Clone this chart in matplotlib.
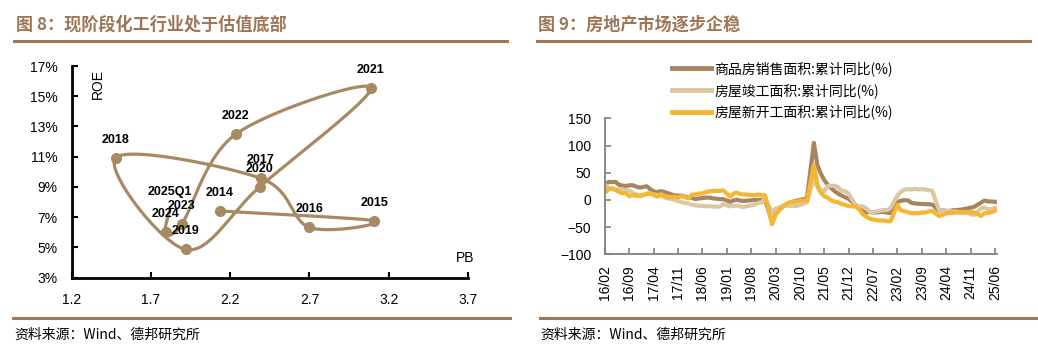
import numpy as np
import pandas as pd
import matplotlib
matplotlib.use('Agg')
import matplotlib.pyplot as plt
from matplotlib.lines import Line2D

plt.rcParams['font.family'] = ['Liberation Sans', 'Noto Sans CJK SC']

# ---------------- Left chart data (PB vs ROE) ----------------
years = ['2014', '2015', '2016', '2017', '2018', '2019', '2020', '2021',
         '2022', '2023', '2024', '2025Q1']
pb = [2.135, 3.108, 2.698, 2.393, 1.479, 1.918, 2.387, 3.087, 2.236, 1.893, 1.792, 1.82]
roe = [7.41, 6.77, 6.33, 9.57, 10.94, 4.87, 9.02, 15.57, 12.50, 6.53, 6.04, 7.5]
marked = [True] * 11 + [False]
x_ticks_left = [1.2, 1.7, 2.2, 2.7, 3.2, 3.7]
y_ticks_left = [3, 5, 7, 9, 11, 13, 15, 17]

# ---------------- Right chart data (monthly, Jan merged -> NaN) ----------------
start_month, end_month = '2016-02', '2025-06'
nan = np.nan
sales = [
    28.2, 33.1, 32.7, 33.2, 27.9, 26.4, 25.5, 26.9, 26.8, 24.3, 22.5,
    nan, 25.1, 19.5, 15.7, 14.3, 16.1, 14.7, 12.7, 10.3, 8.2, 7.9, 7.7,
    nan, 4.1, 3.6, 1.3, 2.9, 3.3, 4.2, 4.0, 2.9, 2.2, 1.4, 1.3,
    nan, -3.6, -0.9, 0.3, -1.6, -1.8, -1.3, -0.6, -0.1, 0.1, 0.2, -0.1,
    nan, -39.9, -26.3, -19.3, -12.3, -8.4, -5.8, -3.3, -1.8, 0.0, 1.3, 2.6,
    nan, 104.9, 63.8, 48.1, 36.3, 27.7, 21.5, 15.9, 11.3, 7.8, 4.8, 1.9,
    nan, -9.6, -13.8, -20.9, -23.6, -22.2, -23.1, -23.0, -22.2, -22.3, -23.3, -24.3,
    nan, -3.6, -1.8, -0.4, -0.9, -5.3, -6.5, -7.1, -7.5, -7.8, -8.0, -8.5,
    nan, -20.5, -19.4, -20.2, -20.3, -19.0, -18.6, -18.0, -17.1, -15.8, -14.3, -12.9,
    nan, -5.1, -1.1, -2.8, -2.9, -3.5,
]
completed = [
    28.0, 22.0, 20.0, 19.0, 20.0, 19.0, 18.0, 17.0, 13.0, 10.0, 6.1,
    nan, 11.7, 12.0, 10.0, 9.0, 7.0, 5.0, 3.0, 2.0, 0.0, -2.0, -4.4,
    nan, -7.0, -9.0, -10.0, -11.0, -11.0, -11.6, -11.7, -12.0, -12.3, -12.3, -7.8,
    nan, -11.9, -10.8, -10.3, -12.4, -12.7, -11.3, -10.0, -8.6, -5.5, -4.5, 2.6,
    nan, -22.9, -15.8, -14.5, -10.5, -10.5, -11.0, -10.8, -11.6, -9.2, -7.3, -4.9,
    nan, 40.4, 22.9, 17.9, 16.4, 25.7, 25.7, 26.0, 23.4, 16.3, 16.0, 11.2,
    nan, -9.8, -11.5, -11.9, -15.3, -21.5, -23.3, -21.1, -19.9, -18.7, -19.0, -15.0,
    nan, 8.0, 14.7, 18.8, 19.6, 19.0, 20.5, 19.2, 19.8, 19.0, 17.9, 17.0,
    nan, -20.2, -20.7, -20.4, -20.1, -21.8, -21.3, -23.6, -24.4, -23.9, -26.0, -27.7,
    nan, -15.6, -14.3, -16.9, -17.3, -14.8,
]
new_start = [
    13.7, 19.2, 21.4, 18.3, 14.9, 12.1, 12.2, 6.8, 8.7, 7.6, 8.1,
    nan, 10.4, 11.6, 8.6, 6.1, 10.6, 7.8, 5.7, 5.6, 5.6, 4.9, 7.0,
    nan, 2.9, 9.7, 10.2, 11.8, 11.8, 14.4, 15.9, 16.4, 16.3, 16.8, 17.2,
    nan, 6.0, 11.9, 13.1, 10.5, 10.1, 9.5, 8.9, 8.6, 10.0, 8.6, 8.5,
    nan, -44.9, -27.2, -18.4, -12.8, -7.6, -4.5, -3.6, -3.4, -1.8, -1.0, -1.2,
    nan, 64.3, 28.2, 12.8, 6.9, 3.8, -0.9, -3.2, -4.5, -7.7, -9.1, -11.4,
    nan, -12.2, -17.5, -26.3, -30.6, -34.4, -36.1, -37.2, -38.0, -37.8, -38.9, -39.4,
    nan, -9.4, -19.2, -21.2, -22.6, -24.3, -24.5, -24.4, -23.4, -23.2, -21.2, -20.4,
    nan, -29.7, -27.8, -24.6, -24.2, -23.7, -23.2, -22.5, -22.2, -22.6, -22.0, -23.0,
    nan, -29.6, -24.4, -23.8, -22.8, -20.0,
]
series_names = ['商品房销售面积:累计同比(%)', '房屋竣工面积:累计同比(%)', '房屋新开工面积:累计同比(%)']
series_colors = ['#A88560', '#D9C8A2', '#F5B631']
y_ticks_right = [-100, -50, 0, 50, 100, 150]
tick_step_months = 7

title_left = '图 8：现阶段化工行业处于估值底部'
title_right = '图 9：房地产市场逐步企稳'
source_text = '资料来源：Wind、德邦研究所'

# ---------------- helpers ----------------
W, H = 1038, 357
def fx(px): return px / W
def fy(py): return 1 - py / H

def smooth(xs, ys, sx, sy, n=40):
    P = np.column_stack([np.asarray(xs, float) * sx, np.asarray(ys, float) * sy])
    E = np.vstack([P[0], P, P[-1]])
    out = []
    t = np.linspace(0, 1, n)[:, None]
    for i in range(len(P) - 1):
        p0, p1, p2, p3 = E[i], E[i + 1], E[i + 2], E[i + 3]
        c1 = p1 + (p2 - p0) / 6
        c2 = p2 - (p3 - p1) / 6
        seg = (1 - t) ** 3 * p1 + 3 * (1 - t) ** 2 * t * c1 + 3 * (1 - t) * t ** 2 * c2 + t ** 3 * p2
        out.append(seg if i == 0 else seg[1:])
    pts = np.vstack(out)
    return pts[:, 0] / sx, pts[:, 1] / sy

fig = plt.figure(figsize=(W / 100, H / 100), dpi=100)
brown = '#A07858'
cjk = ['Noto Sans CJK SC', 'Liberation Sans']

# titles, rules, sources
fig.text(fx(16), fy(25), title_left, fontsize=12.3, fontweight='bold', color='#9C7656',
         family=cjk, va='center', ha='left')
fig.text(fx(538), fy(25), title_right, fontsize=12.3, fontweight='bold', color='#9C7656',
         family=cjk, va='center', ha='left')
for x0, x1 in [(14, 507), (537, 1030)]:
    fig.add_artist(Line2D([fx(x0), fx(x1)], [fy(40.7), fy(40.7)], color=brown, lw=2.2,
                          transform=fig.transFigure))
for x0, x1 in [(13, 510), (540, 1036)]:
    fig.add_artist(Line2D([fx(x0), fx(x1)], [fy(317.5), fy(317.5)], color=brown, lw=2.2,
                          transform=fig.transFigure))
fig.text(fx(14), fy(335), source_text, fontsize=10, family=cjk, va='center', ha='left', color='black')
fig.text(fx(540), fy(335), source_text, fontsize=10, family=cjk, va='center', ha='left', color='black')

# ---------------- left chart ----------------
ax1 = fig.add_axes([fx(71.7), fy(277.7), (468 - 71.7) / W, (277.7 - 66) / H])
ax1.set_xlim(1.2, 3.7)
ax1.set_ylim(3, 17)
sx = (468 - 71.7) / 2.5
sy = (277.7 - 66) / 14
cx, cy = smooth(pb, roe, sx, sy)
ptc = '#A88A62'
ax1.plot(cx, cy, color=ptc, lw=2.3, solid_capstyle='round', zorder=2)
mx = [p for p, m in zip(pb, marked) if m]
my = [r for r, m in zip(roe, marked) if m]
ax1.plot(mx, my, 'o', color=ptc, ms=7, zorder=3, clip_on=False)
for yr, x, y in zip(years, pb, roe):
    ax1.annotate(yr, (x, y), xytext=(0, 13), textcoords='offset points', ha='center', va='center',
                 fontsize=9, fontweight='bold', color='black')
for s in ['top', 'right']:
    ax1.spines[s].set_visible(False)
for s in ['left', 'bottom']:
    ax1.spines[s].set_linewidth(2.0)
    ax1.spines[s].set_color('black')
ax1.set_xticks(x_ticks_left)
ax1.set_xticklabels([f'{v:.1f}' for v in x_ticks_left])
ax1.set_yticks(y_ticks_left)
ax1.set_yticklabels([f'{v}%' for v in y_ticks_left])
ax1.tick_params(axis='both', direction='in', length=4, width=1.5, color='black', labelsize=10)
ax1.tick_params(axis='y', pad=10)
ax1.tick_params(axis='x', pad=11)
fig.text(fx(98), fy(84), 'ROE', rotation=90, fontsize=10, ha='center', va='center')
fig.text(fx(465), fy(258), 'PB', fontsize=10, ha='center', va='center')

# ---------------- right chart ----------------
months = pd.date_range(start_month, end_month, freq='MS')
idx = np.arange(len(months))
ax2 = fig.add_axes([fx(605), fy(254.3), (997 - 605) / W, (254.3 - 118.3) / H])
ax2.set_xlim(0, 112.6)
ax2.set_ylim(-100, 150)
handles = []
for vals, name, col in zip([sales, completed, new_start], series_names, series_colors):
    v = np.asarray(vals, float)
    ok = ~np.isnan(v)
    h, = ax2.plot(idx[ok], v[ok], color=col, lw=3.0, label=name, solid_joinstyle='round')
    handles.append(h)
for s in ['top', 'right']:
    ax2.spines[s].set_visible(False)
for s in ['left', 'bottom']:
    ax2.spines[s].set_linewidth(1.3)
    ax2.spines[s].set_color('#7F7F7F')
tick_pos = idx[::tick_step_months]
ax2.set_xticks(tick_pos)
ax2.set_xticklabels([months[i].strftime('%y/%m') for i in tick_pos], rotation=90)
ax2.set_yticks(y_ticks_right)
ax2.tick_params(axis='both', direction='in', length=4, width=1.2, color='#7F7F7F', labelsize=10)
ax2.tick_params(axis='y', pad=10)
ax2.tick_params(axis='x', pad=8)
leg = fig.legend(handles=handles, loc='upper left', bbox_to_anchor=(fx(672), fy(61)),
                 frameon=False, prop={'family': cjk, 'size': 10}, handlelength=2.8,
                 handletextpad=0.25, labelspacing=0.5, borderaxespad=0, borderpad=0)
for line in leg.get_lines():
    line.set_linewidth(3.5)

fig.savefig('out.png', dpi=100)
